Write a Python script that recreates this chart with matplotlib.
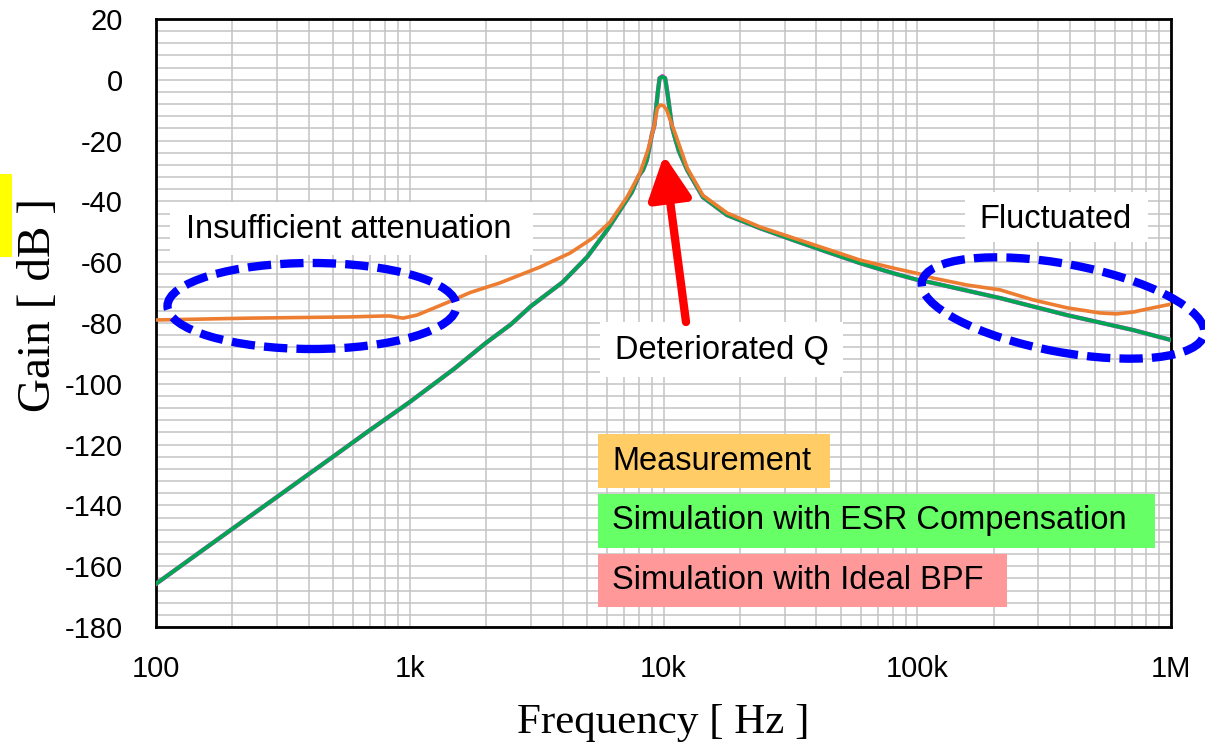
import numpy as np
import matplotlib.pyplot as plt
from matplotlib import patches
from matplotlib.ticker import FixedLocator, NullFormatter

plt.rcParams['font.family'] = ['Liberation Sans', 'DejaVu Sans']
plt.rcParams['axes.unicode_minus'] = False

# Simulation with ESR compensation (green)
esr_freq = [100, 150, 200, 300, 500, 700, 1000, 1500, 2000, 2500, 3000, 4000, 5000,
            6000, 7000, 7500, 8000, 8300, 8600, 9000, 9200, 9500, 9650, 9900, 10150,
            10350, 10800, 11000, 11500, 12400, 14300, 17800, 24000, 32400, 44100,
            59500, 80200, 100000, 115000, 212000, 389000, 708000, 1000000]
esr_gain = [-165.8, -155.2, -147.7, -137.2, -123.9, -115.1, -106.0, -95.0, -86.5,
            -80.5, -74.5, -66.6, -58.3, -49.4, -40.8, -37.0, -31.5, -29.7, -26.4,
            -18.0, -15.0, -4.0, 0.5, 1.0, 0.5, -4.0, -15.5, -18.0, -23.5, -29.7,
            -38.6, -44.5, -48.8, -52.7, -56.6, -60.3, -63.6, -65.8, -66.8, -71.8,
            -77.4, -82.3, -85.6]

# Simulation with ideal BPF (pink, mostly hidden under green)
ideal_freq = esr_freq
ideal_gain = [-165.8, -155.2, -147.7, -137.2, -123.9, -115.1, -106.0, -95.0, -86.5,
              -80.5, -74.5, -66.6, -58.3, -49.4, -40.8, -37.0, -31.5, -29.7, -26.4,
              -18.0, -15.0, -4.0, 0.5, 1.2, 0.5, -4.0, -15.5, -18.0, -23.5, -29.7,
              -38.6, -44.5, -48.8, -52.7, -56.6, -60.3, -63.6, -65.8, -66.8, -71.8,
              -77.4, -82.3, -85.6]

# Measurement (orange)
meas_freq = [100, 234, 581, 785, 836, 941, 1068, 1450, 1726, 2268, 3261, 4281, 5277,
             6155, 7181, 8078, 8688, 9200, 9450, 9700, 10000, 10300, 10600, 11100,
             12400, 14300, 17800, 24000, 32400, 44100, 59500, 80200, 102500, 115000,
             157000, 212000, 286000, 389000, 525000, 612000, 708000, 849000, 1000000]
meas_gain = [-79.0, -78.4, -78.0, -77.7, -77.7, -78.4, -77.4, -72.8, -70.0, -66.8,
             -61.6, -57.0, -52.0, -46.8, -38.6, -30.7, -23.0, -15.0, -9.5, -8.3,
             -8.5, -10.0, -13.0, -17.5, -29.0, -38.0, -43.8, -48.4, -52.0, -55.7,
             -59.3, -61.9, -63.9, -65.2, -67.5, -69.1, -72.4, -75.0, -76.7, -77.0,
             -76.4, -75.0, -73.8]

x_ticks = [100, 1000, 10000, 100000, 1000000]
x_labels = ['100', '1k', '10k', '100k', '1M']
y_ticks = list(range(-180, 21, 20))

W, H = 1205, 747
fig = plt.figure(figsize=(W / 100, H / 100), dpi=100)
ax = fig.add_axes([156 / W, 1 - 627 / H, (1171 - 156) / W, (627 - 19) / H])

ax.plot(ideal_freq, ideal_gain, color='#E040E0', lw=3.2, zorder=3)
ax.plot(esr_freq, esr_gain, color='#00A651', lw=2.8, zorder=4)
ax.plot(meas_freq, meas_gain, color='#ED7D31', lw=2.6, zorder=5)

ax.set_xscale('log')
ax.set_xlim(100, 1e6)
ax.set_ylim(-180, 20)
ax.set_xticks(x_ticks)
ax.set_xticklabels(x_labels)
minor_x = [m * 10 ** d for d in range(2, 6) for m in range(2, 10)]
ax.xaxis.set_minor_locator(FixedLocator(minor_x))
ax.xaxis.set_minor_formatter(NullFormatter())
ax.set_yticks(y_ticks)
ax.yaxis.set_minor_locator(FixedLocator(list(range(-180, 21, 4))))
ax.grid(True, which='both', color='#c4c4c4', lw=1.1)
ax.set_axisbelow(True)
ax.tick_params(which='both', length=0)
ax.tick_params(axis='x', labelsize=21, pad=20)
ax.tick_params(axis='y', labelsize=21, pad=24)
for s in ax.spines.values():
    s.set_linewidth(2.0)
    s.set_color('black')

ax.set_xlabel('Frequency [ Hz ]', fontfamily='Liberation Serif', fontsize=31, labelpad=15)
ax.set_ylabel('Gain [ dB ]', fontfamily='Liberation Serif', fontsize=34)
ax.yaxis.set_label_coords(-0.095, 0.53)


def px(x, y):
    return x / W, 1 - y / H


def box(x0, y0, x1, y1, color, label):
    fx, fy = px(x0, y1)
    fig.add_artist(patches.Rectangle((fx, fy), (x1 - x0) / W, (y1 - y0) / H,
                                     transform=fig.transFigure, fc=color, ec='none', zorder=6))
    tx, ty = px(x0 + 14, (y0 + y1) / 2)
    fig.text(tx, ty, label, fontsize=23.5, va='center', ha='left', zorder=7)


# annotation boxes
box(170, 202, 533, 255, 'white', '')
fig.text(*px(349, 229), 'Insufficient attenuation', fontsize=23.5, ha='center', va='center', zorder=7)
box(600, 322, 843, 377, 'white', '')
fig.text(*px(722, 350), 'Deteriorated Q', fontsize=23.5, ha='center', va='center', zorder=7)
box(965, 192, 1148, 242, 'white', '')
fig.text(*px(1056, 219), 'Fluctuated', fontsize=23.5, ha='center', va='center', zorder=7)

# legend-like coloured boxes
box(598, 434, 830, 488, '#FFCC66', 'Measurement')
box(598, 494, 1155, 548, '#66FF66', 'Simulation with ESR Compensation')
box(598, 554, 1007, 607, '#FF9999', 'Simulation with Ideal BPF')

# yellow mark on left edge
fig.add_artist(patches.Rectangle(px(0, 257), 12 / W, 83 / H, transform=fig.transFigure,
                                 fc='#FFFF00', ec='none'))

# dashed ellipses (pixel -> inches)
for cx, cy, w, h, ang in [(312, 306, 289, 86, 0), (1063, 308, 287, 88, -10.6)]:
    e = patches.Ellipse((cx / 100, (H - cy) / 100), w / 100, h / 100, angle=ang,
                        transform=fig.dpi_scale_trans, fill=False, ec='#0000FF', lw=6,
                        linestyle=(0, (2.8, 1.1)), zorder=8)
    e.set_capstyle('butt')
    fig.add_artist(e)

# red arrow
arrow = patches.FancyArrowPatch(px(686, 322), px(664, 155), transform=fig.transFigure,
                                arrowstyle='-|>,head_length=26,head_width=13',
                                mutation_scale=1, lw=6, color='#FF0000',
                                shrinkA=0, shrinkB=0, zorder=8)
fig.add_artist(arrow)

fig.savefig('out.png', dpi=100)
